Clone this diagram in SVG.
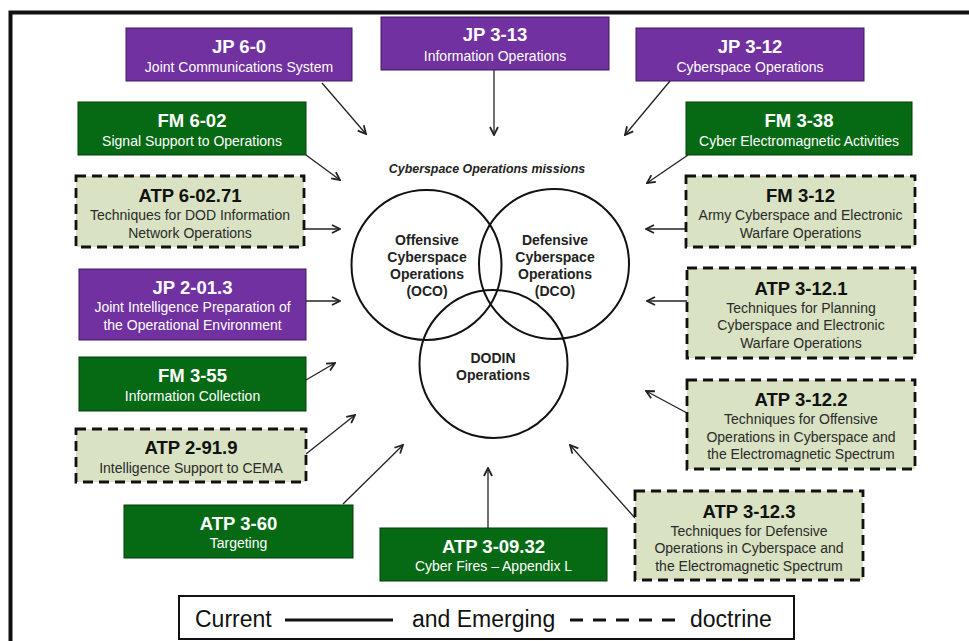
<svg xmlns="http://www.w3.org/2000/svg" width="969" height="641" viewBox="0 0 969 641">
<defs>
<style>
.p{fill:#7131a1;stroke:#3f1860;stroke-width:1}
.g{fill:#066a14;stroke:#063a0a;stroke-width:1}
.d{fill:#d9e2c2;stroke:#111;stroke-width:2.8;stroke-dasharray:10,6}
text{font-family:"Liberation Sans",Arial,sans-serif;text-anchor:middle}
.t{font-size:18.5px;font-weight:bold}
.s{font-size:14px}
.w{fill:#fff}
.k{fill:#111}
.ks{fill:#2a2a2a}
.c{fill:none;stroke:#111;stroke-width:2}
.ct{font-size:14px;font-weight:bold;fill:#222}
.a{stroke:#222;stroke-width:1.3;fill:none;marker-end:url(#ah)}
</style>
<marker id="ah" viewBox="0 0 10 10" refX="9" refY="5" markerWidth="10" markerHeight="10" markerUnits="userSpaceOnUse" orient="auto">
<path d="M1,1 L9,5 L1,9" fill="none" stroke="#222" stroke-width="1.8"/>
</marker>
</defs>
<rect x="0" y="0" width="969" height="641" fill="#fff"/>
<rect x="10.5" y="12.5" width="1000" height="700" fill="none" stroke="#111" stroke-width="4"/>

<g id="connectors">
<line class="a" x1="322" y1="83" x2="366" y2="134"/>
<line class="a" x1="494" y1="70" x2="494" y2="135"/>
<line class="a" x1="670" y1="81" x2="625" y2="135"/>
<line class="a" x1="306" y1="155" x2="340" y2="180"/>
<line class="a" x1="688" y1="155" x2="647" y2="183"/>
<line class="a" x1="304" y1="229" x2="340" y2="229"/>
<line class="a" x1="686" y1="229" x2="646" y2="229"/>
<line class="a" x1="306" y1="301" x2="340" y2="301"/>
<line class="a" x1="687" y1="301" x2="647" y2="301"/>
<line class="a" x1="306" y1="380" x2="335" y2="363"/>
<line class="a" x1="687" y1="413" x2="646" y2="391"/>
<line class="a" x1="306" y1="454" x2="355" y2="415"/>
<line class="a" x1="343" y1="504" x2="403" y2="445"/>
<line class="a" x1="488" y1="528" x2="488" y2="468"/>
<line class="a" x1="635" y1="518" x2="570" y2="445"/>
</g>

<g id="missions">
<text x="487" y="173" style="font-size:12.4px;font-weight:bold;font-style:italic;fill:#222">Cyberspace Operations missions</text>
<circle class="c" cx="426.5" cy="265" r="75"/>
<circle class="c" cx="554" cy="264" r="75"/>
<circle class="c" cx="493.5" cy="364" r="74"/>
<text class="ct" x="427"><tspan x="427" y="245">Offensive</tspan><tspan x="427" y="262">Cyberspace</tspan><tspan x="427" y="279">Operations</tspan><tspan x="427" y="296">(OCO)</tspan></text>
<text class="ct" x="555"><tspan x="555" y="245">Defensive</tspan><tspan x="555" y="262">Cyberspace</tspan><tspan x="555" y="279">Operations</tspan><tspan x="555" y="296">(DCO)</tspan></text>
<text class="ct" x="493"><tspan x="493" y="363">DODIN</tspan><tspan x="493" y="380">Operations</tspan></text>
</g>

<g id="jp60"><rect class="p" x="126" y="28" width="226" height="53"/>
<text class="t w" x="239" y="53">JP 6-0</text><text class="s w" x="239" y="71.5">Joint Communications System</text></g>

<g id="jp313"><rect class="p" x="381" y="17" width="228" height="53"/>
<text class="t w" x="495" y="41">JP 3-13</text><text class="s w" x="495" y="60.5">Information Operations</text></g>

<g id="jp312"><rect class="p" x="636" y="28" width="228" height="53"/>
<text class="t w" x="750" y="53">JP 3-12</text><text class="s w" x="750" y="71.5">Cyberspace Operations</text></g>

<g id="fm602"><rect class="g" x="78" y="102" width="228" height="53"/>
<text class="t w" x="192" y="127">FM 6-02</text><text class="s w" x="192" y="145.5">Signal Support to Operations</text></g>

<g id="fm338"><rect class="g" x="686" y="102" width="226" height="53"/>
<text class="t w" x="799" y="127">FM 3-38</text><text class="s w" x="799" y="145.5">Cyber Electromagnetic Activities</text></g>

<g id="atp60271"><rect class="d" x="76" y="176" width="228" height="71"/>
<text class="t k" x="190" y="202">ATP 6-02.71</text>
<text class="s ks" x="190"><tspan x="190" y="220">Techniques for DOD Information</tspan><tspan x="190" y="237.5">Network Operations</tspan></text></g>

<g id="fm312"><rect class="d" x="686" y="176" width="229" height="71"/>
<text class="t k" x="800.5" y="202">FM 3-12</text>
<text class="s ks" x="800.5"><tspan x="800.5" y="220">Army Cyberspace and Electronic</tspan><tspan x="800.5" y="237.5">Warfare Operations</tspan></text></g>

<g id="jp2013"><rect class="p" x="79" y="269" width="227" height="71"/>
<text class="t w" x="192.5" y="294">JP 2-01.3</text>
<text class="s w" x="192.5"><tspan x="192.5" y="312">Joint Intelligence Preparation of</tspan><tspan x="192.5" y="329.5">the Operational Environment</tspan></text></g>

<g id="atp3121"><rect class="d" x="687" y="268" width="228" height="90"/>
<text class="t k" x="801" y="294.5">ATP 3-12.1</text>
<text class="s ks" x="801"><tspan x="801" y="312.5">Techniques for Planning</tspan><tspan x="801" y="330">Cyberspace and Electronic</tspan><tspan x="801" y="347.5">Warfare Operations</tspan></text></g>

<g id="fm355"><rect class="g" x="79" y="357" width="227" height="54"/>
<text class="t w" x="192.5" y="382">FM 3-55</text><text class="s w" x="192.5" y="400.5">Information Collection</text></g>

<g id="atp3122"><rect class="d" x="687" y="380" width="228" height="89"/>
<text class="t k" x="801" y="406">ATP 3-12.2</text>
<text class="s ks" x="801"><tspan x="801" y="424">Techniques for Offensive</tspan><tspan x="801" y="441.5">Operations in Cyberspace and</tspan><tspan x="801" y="459">the Electromagnetic Spectrum</tspan></text></g>

<g id="atp2919"><rect class="d" x="76" y="429" width="230" height="53"/>
<text class="t k" x="191" y="454">ATP 2-91.9</text><text class="s ks" x="191" y="472.5">Intelligence Support to CEMA</text></g>

<g id="atp360"><rect class="g" x="124" y="505" width="229" height="53"/>
<text class="t w" x="238.5" y="530">ATP 3-60</text><text class="s w" x="238.5" y="548">Targeting</text></g>

<g id="atp30932"><rect class="g" x="380" y="528" width="227" height="53"/>
<text class="t w" x="493.5" y="553">ATP 3-09.32</text><text class="s w" x="493.5" y="571">Cyber Fires – Appendix L</text></g>

<g id="atp3123"><rect class="d" x="635" y="491" width="228" height="89"/>
<text class="t k" x="749" y="518">ATP 3-12.3</text>
<text class="s ks" x="749"><tspan x="749" y="535.5">Techniques for Defensive</tspan><tspan x="749" y="553">Operations in Cyberspace and</tspan><tspan x="749" y="570.5">the Electromagnetic Spectrum</tspan></text></g>

<g id="legend">
<rect x="179" y="596" width="615" height="43" fill="#fff" stroke="#111" stroke-width="2"/>
<text x="195" y="627" style="font-size:23px;text-anchor:start;fill:#111">Current</text>
<line x1="285" y1="620" x2="393" y2="620" stroke="#111" stroke-width="3"/>
<text x="412" y="627" style="font-size:23px;text-anchor:start;fill:#111">and Emerging</text>
<line x1="570" y1="620" x2="680" y2="620" stroke="#111" stroke-width="3" stroke-dasharray="13,10"/>
<text x="690" y="627" style="font-size:23px;text-anchor:start;fill:#111">doctrine</text>
</g>
</svg>
